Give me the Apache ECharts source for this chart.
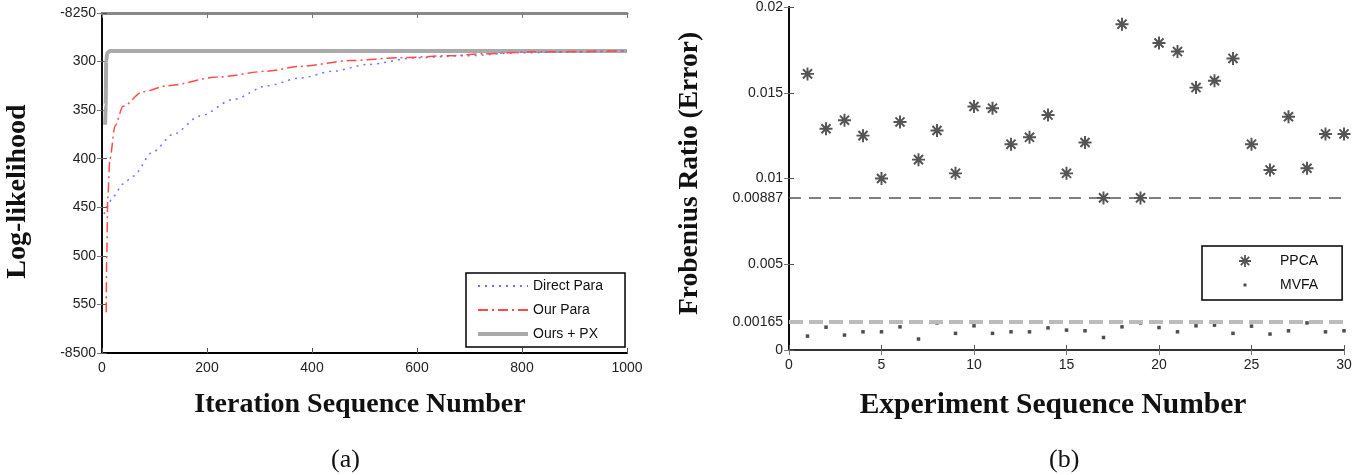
<!DOCTYPE html>
<html lang="en">
<head>
    <meta charset="UTF-8">
    <title>Log-likelihood / Frobenius Ratio</title>
    <script src="https://cdn.jsdelivr.net/npm/echarts@6/dist/echarts.min.js"></script>
    <style>
        html, body { margin: 0; padding: 0; background: #fff; }
        #chart { width: 1366px; height: 475px; }
    </style>
</head>
<body>
<div id="chart"></div>

<script>
    // (a) log-likelihood curves
    var iterDirect = [4, 10, 21, 40, 59, 97, 135, 187, 250, 314, 377, 440, 505, 600, 695, 790, 886, 1000];
    var llDirect = [-8457, -8449, -8439, -8426, -8418, -8393, -8375, -8356, -8339, -8325, -8317, -8310, -8303, -8296, -8294, -8291, -8290, -8289];
    var iterOur = [8, 9, 11, 15, 25, 40, 78, 124, 219, 314, 377, 472, 568, 663, 726, 821, 1000];
    var llOur = [-8558, -8500, -8440, -8400, -8366, -8346, -8331, -8325, -8316, -8310, -8305, -8299, -8296, -8294, -8292, -8290, -8289];
    var iterPX = [6, 7, 8, 10, 16, 1000];
    var llPX = [-8365, -8345, -8300, -8291, -8289, -8289];
    // tick labels as printed, top to bottom
    var yLabelsA = ['-8250', '300', '350', '400', '450', '500', '550', '-8500'];

    // (b) frobenius ratio per experiment
    var experiments = [1, 2, 3, 4, 5, 6, 7, 8, 9, 10, 11, 12, 13, 14, 15, 16, 17, 18, 19, 20, 21, 22, 23, 24, 25, 26, 27, 28, 29, 30];
    var ppca = [0.0161, 0.0129, 0.0134, 0.0125, 0.0100, 0.0133, 0.0111, 0.0128, 0.0103, 0.0142, 0.0141, 0.0120, 0.0124, 0.0137, 0.0103,
        0.0121, 0.00887, 0.0190, 0.00887, 0.0179, 0.0174, 0.0153, 0.0157, 0.0170, 0.0120, 0.0105, 0.0136, 0.0106, 0.0126, 0.0126];
    var mvfa = [0.00081, 0.00133, 0.00087, 0.00106, 0.00106, 0.00135, 0.00064, 0.00158, 0.00097, 0.00141, 0.00097, 0.00106, 0.00106, 0.00129, 0.00116,
        0.00112, 0.00073, 0.00135, 0.00158, 0.00131, 0.00106, 0.00141, 0.00145, 0.00097, 0.00139, 0.00093, 0.00112, 0.00158, 0.00106, 0.00112];
    var meanLines = [0.00887, 0.00165];
    var yTicksB = [0, 0.00165, 0.005, 0.00887, 0.01, 0.015, 0.02];

    function pairs(xs, ys) {
        return xs.map(function (x, i) { return [x, ys[i]]; });
    }

    var starPath = 'path://M-1.5,-10L1.5,-10L1.5,10L-1.5,10Z M-10,-1.5L10,-1.5L10,1.5L-10,1.5Z ' +
        'M-5.9,-8.1L8.1,5.9L5.9,8.1L-8.1,-5.9Z M-8.1,5.9L5.9,-8.1L8.1,-5.9L-5.9,8.1Z';
    var dotIcon = 'image://data:image/svg+xml;charset=utf-8,' + encodeURIComponent(
        '<svg xmlns="http://www.w3.org/2000/svg" width="12" height="12"><rect x="4.5" y="4.5" width="3" height="3" fill="#222"/></svg>');

    var sans = 'Liberation Sans';
    var serif = 'Liberation Serif';
    var tickLabel = { fontSize: 14, color: '#222', fontFamily: sans };
    function titleFont(size, pad) {
        return { fontSize: size, fontWeight: 'bold', color: '#111', fontFamily: serif, padding: pad };
    }

    var myChart = echarts.init(document.getElementById('chart'));

    var option = {
        animation: false,
        title: [
            { text: '(a)', left: 326, top: 442, textStyle: { fontSize: 26, fontWeight: 'normal', color: '#111', fontFamily: serif } },
            { text: '(b)', left: 1044, top: 442, textStyle: { fontSize: 26, fontWeight: 'normal', color: '#111', fontFamily: serif } }
        ],
        grid: [
            { left: 102, top: 13, width: 525, height: 340 },
            { left: 789, top: 5, width: 555, height: 345 }
        ],
        legend: [
            {
                data: ['Direct Para', 'Our Para', { name: 'Ours + PX', lineStyle: { width: 4 } }],
                orient: 'vertical',
                left: 466, top: 273,
                padding: [6, 22, 6, 10],
                itemWidth: 50, itemHeight: 14, itemGap: 10,
                itemStyle: { opacity: 0 },
                borderColor: '#000', borderWidth: 1.5, borderRadius: 0,
                backgroundColor: '#fff',
                textStyle: { fontSize: 14, color: '#111', fontFamily: sans }
            },
            {
                data: [{ name: 'PPCA', icon: starPath }, { name: 'MVFA', icon: dotIcon }],
                orient: 'vertical',
                left: 1202, top: 246,
                padding: [8, 24, 8, 13],
                itemWidth: 60, itemHeight: 12, itemGap: 10,
                borderColor: '#000', borderWidth: 1.5, borderRadius: 0,
                backgroundColor: '#fff',
                textStyle: { fontSize: 14, color: '#111', fontFamily: sans }
            }
        ],
        xAxis: [
            {
                gridIndex: 0, type: 'value', min: 0, max: 1000, interval: 200,
                name: 'Iteration Sequence Number', nameLocation: 'middle', nameGap: 38,
                nameTextStyle: titleFont(28, [0, 9, 0, 0]),
                axisLine: { lineStyle: { color: '#000', width: 2 } },
                axisTick: { inside: true, length: 5, lineStyle: { color: '#555' } },
                axisLabel: Object.assign({ formatter: function (v) { return String(v); } }, tickLabel),
                splitLine: { show: false }
            },
            {
                gridIndex: 0, type: 'value', min: 0, max: 1000, interval: 200, position: 'top',
                axisLine: { lineStyle: { color: '#888', width: 3 } },
                axisTick: { inside: true, length: 5, lineStyle: { color: '#777' } },
                axisLabel: { show: false },
                splitLine: { show: false }
            },
            {
                gridIndex: 1, type: 'value', min: 0, max: 30, interval: 5,
                name: 'Experiment Sequence Number', nameLocation: 'middle', nameGap: 40,
                nameTextStyle: titleFont(29.5, [0, 27, 0, 0]),
                axisLine: { lineStyle: { color: '#000', width: 2 } },
                axisTick: { inside: true, length: 5, lineStyle: { color: '#555' } },
                axisLabel: tickLabel,
                splitLine: { show: false }
            },
            {
                gridIndex: 1, type: 'value', min: 0, max: 30, interval: 5, position: 'top',
                axisLine: { lineStyle: { color: '#444', width: 1.5 } },
                axisTick: { inside: true, length: 5, lineStyle: { color: '#777' } },
                axisLabel: { show: false },
                splitLine: { show: false }
            }
        ],
        yAxis: [
            {
                gridIndex: 0, type: 'value', min: -8600, max: -8250, interval: 50,
                name: 'Log-likelihood', nameLocation: 'middle', nameGap: 70, nameRotate: 90,
                nameTextStyle: titleFont(28, [0, 17, 0, 0]),
                axisLine: { lineStyle: { color: '#000', width: 2 } },
                axisTick: { inside: true, length: 5, lineStyle: { color: '#555' } },
                axisLabel: Object.assign({ margin: 6, formatter: function (v) {
                    return yLabelsA[Math.round((-8250 - v) / 50)];
                } }, tickLabel),
                splitLine: { show: false }
            },
            {
                gridIndex: 0, type: 'value', min: -8600, max: -8250, interval: 50, position: 'right',
                axisLine: { lineStyle: { color: '#111', width: 1.5 } },
                axisTick: { inside: true, length: 5, lineStyle: { color: '#777' } },
                axisLabel: { show: false },
                splitLine: { show: false }
            },
            {
                gridIndex: 1, type: 'value', min: 0, max: 0.02, interval: 0.005,
                name: 'Frobenius Ratio (Error)', nameLocation: 'middle', nameGap: 85, nameRotate: 90,
                nameTextStyle: titleFont(27.5, [0, 0, 0, 10]),
                axisLine: { lineStyle: { color: '#000', width: 2 } },
                axisTick: { inside: true, length: 5, lineStyle: { color: '#555' } },
                axisLabel: Object.assign({ margin: 6, customValues: yTicksB }, tickLabel),
                splitLine: { show: false }
            },
            {
                gridIndex: 1, type: 'value', min: 0, max: 0.02, interval: 0.005, position: 'right',
                axisLine: { lineStyle: { color: '#111', width: 1.5 } },
                axisTick: { inside: true, length: 5, lineStyle: { color: '#777' } },
                axisLabel: { show: false },
                splitLine: { show: false }
            }
        ],
        series: [
            {
                name: 'Ours + PX', type: 'line', xAxisIndex: 0, yAxisIndex: 0,
                data: pairs(iterPX, llPX), symbol: 'none', smooth: 0.3, smoothMonotone: 'x',
                color: '#aaa', lineStyle: { color: '#aaa', width: 4 }
            },
            {
                name: 'Direct Para', type: 'line', xAxisIndex: 0, yAxisIndex: 0,
                data: pairs(iterDirect, llDirect), symbol: 'none', smooth: 0.3, smoothMonotone: 'x',
                color: '#7070ff', lineStyle: { color: '#7070ff', width: 1.5, type: [2, 5] }
            },
            {
                name: 'Our Para', type: 'line', xAxisIndex: 0, yAxisIndex: 0,
                data: pairs(iterOur, llOur), symbol: 'none', smooth: 0.3, smoothMonotone: 'x',
                color: '#ff4a4a', lineStyle: { color: '#ff4a4a', width: 1.5, type: [10, 4, 2, 4] }
            },
            {
                name: 'PPCA', type: 'scatter', xAxisIndex: 2, yAxisIndex: 2,
                data: pairs(experiments, ppca), symbol: starPath, symbolSize: 13,
                itemStyle: { color: '#2a2a2a' },
                markLine: {
                    silent: true, symbol: 'none', label: { show: false }, precision: 6,
                    data: [
                        { yAxis: meanLines[1], lineStyle: { color: '#bbb', width: 4, type: [14, 6] } },
                        { yAxis: meanLines[0], lineStyle: { color: '#555', width: 1.5, type: [12, 8] } }
                    ]
                }
            },
            {
                name: 'MVFA', type: 'scatter', xAxisIndex: 2, yAxisIndex: 2,
                data: pairs(experiments, mvfa), symbol: 'rect', symbolSize: 3.5,
                itemStyle: { color: '#222' }
            }
        ]
    };

    myChart.setOption(option);
</script>
</body>
</html>
